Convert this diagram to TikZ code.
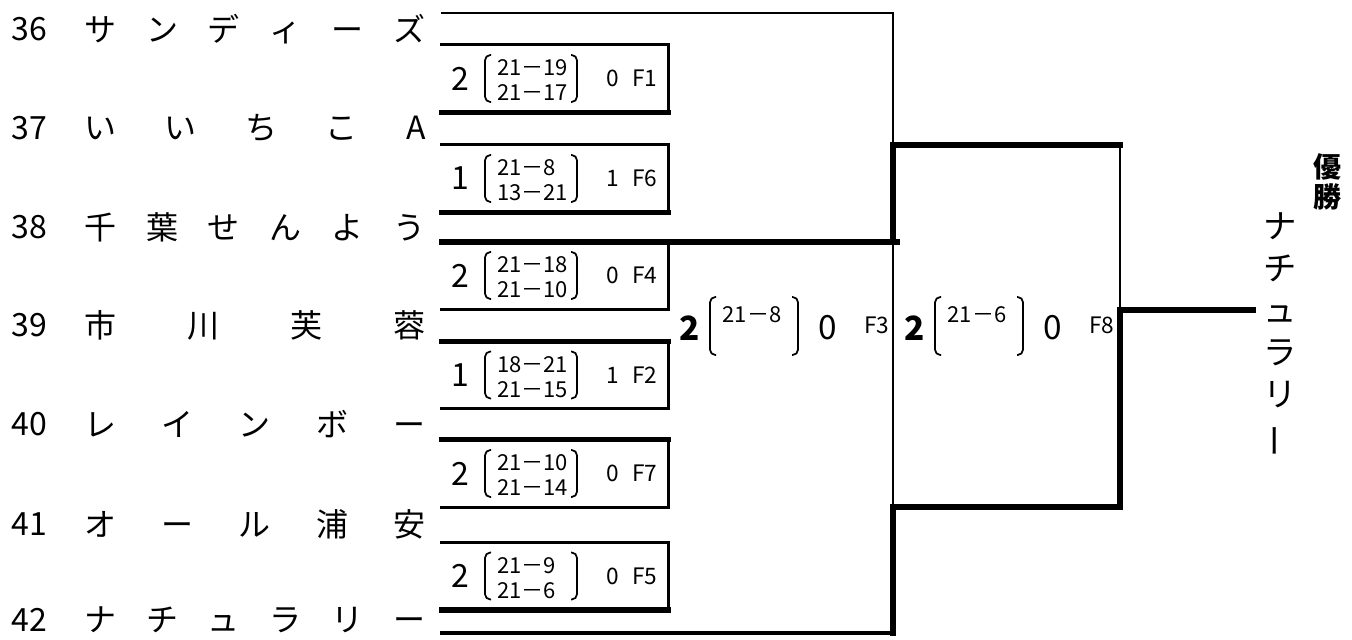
\documentclass[tikz,border=0pt]{standalone}
\usepackage{fontspec}
\setmainfont{Noto Sans CJK JP}
\usetikzlibrary{calc}

\begin{document}
\begin{tikzpicture}[
    x=0.75pt, y=-0.75pt,
    thinline/.style={line width=1.9pt, line cap=rect},
    medline/.style={line width=2.5pt, line cap=rect},
    thickline/.style={line width=4.1pt, line cap=rect},
    bthin/.style={line width=1.5pt},
    bthick/.style={line width=4.5pt, line cap=rect},
    paren/.style={line width=1.3pt, rounded corners=4pt},
    scorebox/.style={minimum width=169.5pt, minimum height=50.25pt, inner sep=0pt},
    team/.style={font=\fontsize{24}{28}\selectfont, inner sep=0pt},
    bignum/.style={font=\fontsize{24}{28}\selectfont, inner sep=0pt},
    scores/.style={font=\fontsize{16.5}{18.75}\selectfont, align=left, inner sep=0pt},
    smallnum/.style={font=\fontsize{17}{20}\selectfont, inner sep=0pt},
    finalwin/.style={font=\fontsize{25}{30}\selectfont\bfseries, inner sep=0pt},
    finalscore/.style={font=\fontsize{16.5}{18}\selectfont, inner sep=0pt},
    finallose/.style={font=\fontsize{25}{30}\selectfont, inner sep=0pt},
    finallabel/.style={font=\fontsize{17}{20}\selectfont, inner sep=0pt},
    wintitle/.style={font=\fontsize{21}{23}\selectfont\bfseries, align=center, inner sep=0pt},
    winname/.style={font=\fontsize{25}{31.5}\selectfont, align=center, inner sep=0pt}
]

\useasboundingbox (0,0) rectangle (1352,639);
\fill[white] (0,0) rectangle (1352,639);

% teams
\foreach \n/\yc/\tn in {36/29/サ ン デ ィ ー ズ, 37/128/い い ち こ A,
    38/227/千 葉 せ ん よ う, 39/325/市 川 芙 蓉, 40/424/レ イ ン ボ ー,
    41/524/オ ー ル 浦 安, 42/620/ナ チ ュ ラ リ ー}{
    \node[team] (no\n) at (29,\yc) {\n};
    \node[team, anchor=west] (tm\n) at (84,\yc) {\makebox[256pt][s]{\tn}};
}

% first round boxes
\foreach \nm/\yc/\w/\sa/\sb/\l/\tw/\bw in {
    F1/78.5/2/21－19/21－17/0/thinline/thickline,
    F6/178.5/1/21－8/13－21/1/medline/thickline,
    F4/275.5/2/21－18/21－10/0/thickline/medline,
    F2/375/1/18－21/21－15/1/thickline/medline,
    F7/473.5/2/21－10/21－14/0/thickline/thinline,
    F5/576/2/21－9/21－6/0/thinline/thickline}{
    \node[scorebox] (\nm) at (555,\yc) {};
    \draw[\tw] (\nm.north west) -- (\nm.north east);
    \draw[medline] (\nm.north east) -- (\nm.south east);
    \draw[\bw] (\nm.south west) -- (\nm.south east);
    \node[bignum] (\nm-w) at ($(\nm.center)+(-95,0)$) {\w};
    \draw[paren] ($(\nm.center)+(-64,-23.5)$) -- ++(-6,0) -- ++(0,47) -- ++(6,0);
    \node[scores, anchor=west] (\nm-s) at ($(\nm.center)+(-58,2)$) {\sa\\\sb};
    \draw[paren] ($(\nm.center)+(16,-23.5)$) -- ++(6,0) -- ++(0,47) -- ++(-6,0);
    \node[smallnum] (\nm-l) at ($(\nm.center)+(58,0)$) {\l};
    \node[smallnum] (\nm-t) at ($(\nm.center)+(90,0)$) {\nm};
}

% bracket
\coordinate (l36) at (442,13);  \coordinate (r36) at (893,13);
\coordinate (l38) at (442,242); \coordinate (r38) at (893,242);
\coordinate (l42) at (442,633); \coordinate (r42) at (893,633);
\coordinate (semiTL) at (893,145); \coordinate (semiTR) at (1120,145);
\coordinate (semiBL) at (893,507); \coordinate (semiBR) at (1120,507);
\coordinate (finR) at (1120,310);  \coordinate (champ) at (1253,310);

\draw[thinline] (l36) -- (r36);
\draw[bthin] (r36) -- (semiTL);
\draw[thickline] (l38) -- ($(r38)+(4,0)$);
\draw[bthick] (r38) -- (semiTL) -- (semiTR);
\draw[bthin] (semiTR) -- (finR);
\draw[bthin] (r38) -- (semiBL);
\draw[bthick] (champ) -- (finR) -- (semiBR) -- (semiBL) -- (r42);
\draw[medline] (l42) -- (r42);

% later rounds
\foreach \nm/\xo/\sc in {F3/667/21－8, F8/892/21－6}{
    \coordinate (\nm) at (\xo,326);
    \node[finalwin] (\nm-w) at ($(\nm)+(23,2)$) {2};
    \draw[paren] ($(\nm)+(49,-29)$) -- ++(-6,0) -- ++(0,58) -- ++(6,0);
    \node[finalscore] (\nm-s) at ($(\nm)+(85,-11)$) {\sc};
    \draw[paren] ($(\nm)+(125,-29)$) -- ++(6,0) -- ++(0,58) -- ++(-6,0);
    \node[finallose] (\nm-l) at ($(\nm)+(161,2)$) {0};
    \node[finallabel] (\nm-t) at ($(\nm)+(210,-1)$) {\nm};
}

% champion
\node[wintitle] (yusho) at (1327,182) {優\\勝};
\node[winname] (winner) at (1280,335) {ナ\\チ\\ュ\\ラ\\リ\\\rotatebox[origin=c]{90}{ー}};

\end{tikzpicture}
\end{document}
